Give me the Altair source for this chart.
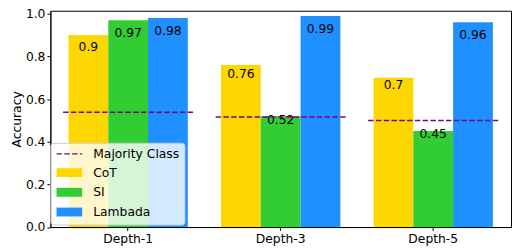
import altair as alt
import pandas as pd

groups = ["Depth-1", "Depth-3", "Depth-5"]
methods = ["CoT", "SI", "Lambada"]
cot = [0.9, 0.76, 0.7]
si = [0.97, 0.52, 0.45]
lambada = [0.98, 0.99, 0.96]
majority = [0.538, 0.516, 0.5]
colors = ["#FFD700", "#32CD32", "#1E90FF"]
majority_color = "#800080"
majority_label = "Majority Class"
y_ticks = [0.0, 0.2, 0.4, 0.6, 0.8, 1.0]

rows = []
for m, vals in zip(methods, [cot, si, lambada]):
    for g, v in zip(groups, vals):
        rows.append({"group": g, "method": m, "acc": v})
bars_df = pd.DataFrame(rows)
maj_df = pd.DataFrame({"group": groups, "acc": majority})

legend_domain = [majority_label] + methods
legend_df = pd.DataFrame({"method": legend_domain})

FONT = "DejaVu Sans"
FS = 12.5
LINE_PATH = "M-1,0H4.2"
RECT_PATH = "M-1,-0.9H4.2V0.9H-1Z"
DASH = [5.5, 2.4]

x_enc = alt.X(
    "group:N", sort=groups, title=None,
    scale=alt.Scale(paddingInner=0.147, paddingOuter=0.0835),
    axis=alt.Axis(labelAngle=0, tickSize=3.5, labelPadding=2, labelFontSize=FS,
                  labelColor="black", tickColor="black", domainColor="black"),
)
y_scale = alt.Scale(domain=[0, 1.014], nice=False, zero=True)
y_axis = alt.Axis(values=y_ticks, format=".1f", title="Accuracy", tickSize=3.5,
                  labelPadding=2, titlePadding=2, labelFontSize=FS, titleFontSize=FS,
                  titleFontWeight="normal", labelColor="black", titleColor="black",
                  tickColor="black", domainColor="black", grid=False)

legend = alt.Legend(
    title=None, orient="none", legendX=0, legendY=134,
    symbolSize=100, labelOffset=26, symbolStrokeWidth=1.5, symbolOpacity=1,
    labelFontSize=FS, labelFont=FONT, labelColor="black",
    padding=5, rowPadding=4,
    fillColor="rgba(255,255,255,0.8)", strokeColor="#cccccc", cornerRadius=3,
)

bars = alt.Chart(bars_df).mark_bar().encode(
    x=x_enc,
    xOffset=alt.XOffset("method:N", sort=methods,
                        scale=alt.Scale(domain=methods, paddingInner=0, paddingOuter=0.136)),
    y=alt.Y("acc:Q", scale=y_scale, axis=y_axis),
    color=alt.Color("method:N", scale=alt.Scale(domain=methods, range=colors), legend=None),
)

text = alt.Chart(bars_df).transform_calculate(
    ty="datum.acc * 0.908 + 0.028"
).mark_text(font=FONT, fontSize=FS, color="black", baseline="middle", align="center").encode(
    x=x_enc,
    xOffset=alt.XOffset("method:N", sort=methods),
    y=alt.Y("ty:Q", scale=y_scale),
    text=alt.Text("acc:Q"),
)

rule = alt.Chart(maj_df).mark_rule(color=majority_color, strokeWidth=1.5,
                                   strokeDash=DASH).encode(
    x=alt.X("group:N", sort=groups, bandPosition=0),
    x2=alt.X2("group", bandPosition=1),
    y=alt.Y("acc:Q", scale=y_scale),
)

legend_layer = alt.Chart(legend_df).transform_filter("false").mark_point(
    strokeWidth=1.5, opacity=1).encode(
    fill=alt.Fill("method:N", scale=alt.Scale(domain=legend_domain,
                                              range=["transparent"] + colors), legend=legend),
    stroke=alt.Stroke("method:N", scale=alt.Scale(domain=legend_domain,
                                                  range=[majority_color, "transparent", "transparent", "transparent"]), legend=legend),
    shape=alt.Shape("method:N", scale=alt.Scale(domain=legend_domain,
                                                range=[LINE_PATH, RECT_PATH, RECT_PATH, RECT_PATH]), legend=legend),
    strokeDash=alt.StrokeDash("method:N", scale=alt.Scale(domain=legend_domain,
                                                          range=[DASH, [1, 0], [1, 0], [1, 0]]), legend=legend),
)

chart = alt.layer(bars, text, rule, legend_layer).properties(
    width=467.5, height=219.5,
    autosize=alt.AutoSizeParams(type="none"),
    padding={"left": 43, "top": 1, "right": 1, "bottom": 22},
).resolve_scale(color="independent").configure(font=FONT).configure_view(stroke="black", strokeWidth=1)

chart.save("out.html", embed_options={"renderer": "svg", "actions": False})
